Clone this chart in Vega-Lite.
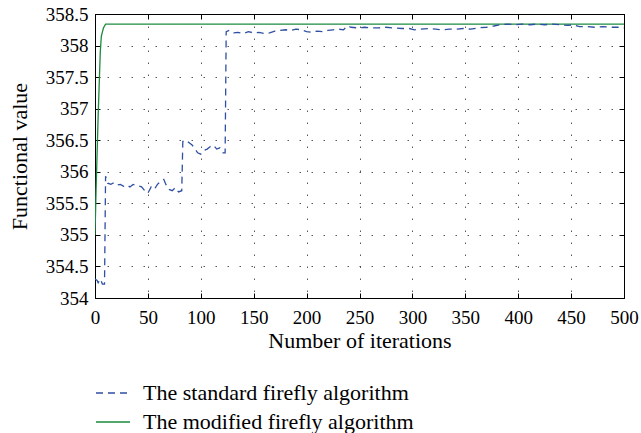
{
  "$schema": "https://vega.github.io/schema/vega-lite/v6.json",
  "width": 529,
  "height": 284,
  "autosize": {"type": "none"},
  "padding": {"left": 95, "top": 14, "right": 17, "bottom": 135},
  "background": "white",
  "config": {
    "font": "Liberation Serif",
    "style": {
      "guide-label": {"font": "Liberation Serif", "fill": "black"},
      "guide-title": {"font": "Liberation Serif", "fill": "black"}
    },
    "view": {"stroke": "black", "strokeWidth": 1},
    "axis": {
      "labelFont": "Liberation Serif",
      "titleFont": "Liberation Serif",
      "labelFontSize": 19,
      "titleFontSize": 22,
      "titleFontWeight": "normal",
      "labelColor": "black",
      "titleColor": "black",
      "domainColor": "black",
      "tickColor": "black",
      "gridColor": "#222222",
      "gridOpacity": 0.75,
      "gridDash": [1.5, 10.5],
      "gridWidth": 1
    },
    "legend": {"labelFont": "Liberation Serif"}
  },
  "data": {
    "values": [
      {"series": "The modified firefly algorithm", "iter": 0, "value": 355.0},
      {"series": "The modified firefly algorithm", "iter": 1, "value": 355.7},
      {"series": "The modified firefly algorithm", "iter": 2, "value": 356.3},
      {"series": "The modified firefly algorithm", "iter": 3, "value": 356.9},
      {"series": "The modified firefly algorithm", "iter": 4, "value": 357.4},
      {"series": "The modified firefly algorithm", "iter": 5, "value": 357.9},
      {"series": "The modified firefly algorithm", "iter": 6, "value": 358.15},
      {"series": "The modified firefly algorithm", "iter": 8, "value": 358.28},
      {"series": "The modified firefly algorithm", "iter": 10, "value": 358.34},
      {"series": "The modified firefly algorithm", "iter": 500, "value": 358.34},

      {"series": "The standard firefly algorithm", "iter": 0, "value": 354.30},
      {"series": "The standard firefly algorithm", "iter": 2, "value": 354.28},
      {"series": "The standard firefly algorithm", "iter": 3, "value": 354.24},
      {"series": "The standard firefly algorithm", "iter": 5, "value": 354.30},
      {"series": "The standard firefly algorithm", "iter": 7, "value": 354.22},
      {"series": "The standard firefly algorithm", "iter": 9, "value": 354.22},
      {"series": "The standard firefly algorithm", "iter": 10, "value": 355.93},
      {"series": "The standard firefly algorithm", "iter": 12, "value": 355.82},
      {"series": "The standard firefly algorithm", "iter": 15, "value": 355.80},
      {"series": "The standard firefly algorithm", "iter": 18, "value": 355.83},
      {"series": "The standard firefly algorithm", "iter": 21, "value": 355.79},
      {"series": "The standard firefly algorithm", "iter": 24, "value": 355.80},
      {"series": "The standard firefly algorithm", "iter": 27, "value": 355.77},
      {"series": "The standard firefly algorithm", "iter": 30, "value": 355.79},
      {"series": "The standard firefly algorithm", "iter": 33, "value": 355.76},
      {"series": "The standard firefly algorithm", "iter": 36, "value": 355.80},
      {"series": "The standard firefly algorithm", "iter": 40, "value": 355.78},
      {"series": "The standard firefly algorithm", "iter": 44, "value": 355.76},
      {"series": "The standard firefly algorithm", "iter": 48, "value": 355.68},
      {"series": "The standard firefly algorithm", "iter": 50, "value": 355.66},
      {"series": "The standard firefly algorithm", "iter": 53, "value": 355.76},
      {"series": "The standard firefly algorithm", "iter": 56, "value": 355.72},
      {"series": "The standard firefly algorithm", "iter": 59, "value": 355.80},
      {"series": "The standard firefly algorithm", "iter": 62, "value": 355.85},
      {"series": "The standard firefly algorithm", "iter": 65, "value": 355.88},
      {"series": "The standard firefly algorithm", "iter": 67, "value": 355.80},
      {"series": "The standard firefly algorithm", "iter": 70, "value": 355.72},
      {"series": "The standard firefly algorithm", "iter": 73, "value": 355.70},
      {"series": "The standard firefly algorithm", "iter": 76, "value": 355.75},
      {"series": "The standard firefly algorithm", "iter": 79, "value": 355.68},
      {"series": "The standard firefly algorithm", "iter": 82, "value": 355.70},
      {"series": "The standard firefly algorithm", "iter": 83, "value": 356.48},
      {"series": "The standard firefly algorithm", "iter": 86, "value": 356.50},
      {"series": "The standard firefly algorithm", "iter": 89, "value": 356.46},
      {"series": "The standard firefly algorithm", "iter": 92, "value": 356.42},
      {"series": "The standard firefly algorithm", "iter": 95, "value": 356.35},
      {"series": "The standard firefly algorithm", "iter": 97, "value": 356.30},
      {"series": "The standard firefly algorithm", "iter": 100, "value": 356.28},
      {"series": "The standard firefly algorithm", "iter": 103, "value": 356.34},
      {"series": "The standard firefly algorithm", "iter": 106, "value": 356.36},
      {"series": "The standard firefly algorithm", "iter": 109, "value": 356.40},
      {"series": "The standard firefly algorithm", "iter": 112, "value": 356.42},
      {"series": "The standard firefly algorithm", "iter": 115, "value": 356.36},
      {"series": "The standard firefly algorithm", "iter": 118, "value": 356.38},
      {"series": "The standard firefly algorithm", "iter": 121, "value": 356.30},
      {"series": "The standard firefly algorithm", "iter": 123, "value": 356.30},
      {"series": "The standard firefly algorithm", "iter": 124, "value": 358.22},
      {"series": "The standard firefly algorithm", "iter": 127, "value": 358.24},
      {"series": "The standard firefly algorithm", "iter": 131, "value": 358.20},
      {"series": "The standard firefly algorithm", "iter": 135, "value": 358.21},
      {"series": "The standard firefly algorithm", "iter": 140, "value": 358.19},
      {"series": "The standard firefly algorithm", "iter": 145, "value": 358.22},
      {"series": "The standard firefly algorithm", "iter": 150, "value": 358.20},
      {"series": "The standard firefly algorithm", "iter": 155, "value": 358.21},
      {"series": "The standard firefly algorithm", "iter": 160, "value": 358.19},
      {"series": "The standard firefly algorithm", "iter": 165, "value": 358.20},
      {"series": "The standard firefly algorithm", "iter": 170, "value": 358.23},
      {"series": "The standard firefly algorithm", "iter": 175, "value": 358.24},
      {"series": "The standard firefly algorithm", "iter": 180, "value": 358.25},
      {"series": "The standard firefly algorithm", "iter": 185, "value": 358.24},
      {"series": "The standard firefly algorithm", "iter": 190, "value": 358.26},
      {"series": "The standard firefly algorithm", "iter": 195, "value": 358.25},
      {"series": "The standard firefly algorithm", "iter": 200, "value": 358.22},
      {"series": "The standard firefly algorithm", "iter": 205, "value": 358.21},
      {"series": "The standard firefly algorithm", "iter": 210, "value": 358.23},
      {"series": "The standard firefly algorithm", "iter": 215, "value": 358.22},
      {"series": "The standard firefly algorithm", "iter": 220, "value": 358.24},
      {"series": "The standard firefly algorithm", "iter": 225, "value": 358.25},
      {"series": "The standard firefly algorithm", "iter": 230, "value": 358.26},
      {"series": "The standard firefly algorithm", "iter": 235, "value": 358.25},
      {"series": "The standard firefly algorithm", "iter": 238, "value": 358.31},
      {"series": "The standard firefly algorithm", "iter": 242, "value": 358.29},
      {"series": "The standard firefly algorithm", "iter": 248, "value": 358.28},
      {"series": "The standard firefly algorithm", "iter": 255, "value": 358.29},
      {"series": "The standard firefly algorithm", "iter": 262, "value": 358.28},
      {"series": "The standard firefly algorithm", "iter": 268, "value": 358.28},
      {"series": "The standard firefly algorithm", "iter": 275, "value": 358.29},
      {"series": "The standard firefly algorithm", "iter": 282, "value": 358.28},
      {"series": "The standard firefly algorithm", "iter": 290, "value": 358.27},
      {"series": "The standard firefly algorithm", "iter": 297, "value": 358.27},
      {"series": "The standard firefly algorithm", "iter": 302, "value": 358.25},
      {"series": "The standard firefly algorithm", "iter": 308, "value": 358.26},
      {"series": "The standard firefly algorithm", "iter": 315, "value": 358.27},
      {"series": "The standard firefly algorithm", "iter": 322, "value": 358.26},
      {"series": "The standard firefly algorithm", "iter": 328, "value": 358.25},
      {"series": "The standard firefly algorithm", "iter": 335, "value": 358.26},
      {"series": "The standard firefly algorithm", "iter": 341, "value": 358.26},
      {"series": "The standard firefly algorithm", "iter": 348, "value": 358.27},
      {"series": "The standard firefly algorithm", "iter": 355, "value": 358.26},
      {"series": "The standard firefly algorithm", "iter": 362, "value": 358.28},
      {"series": "The standard firefly algorithm", "iter": 370, "value": 358.29},
      {"series": "The standard firefly algorithm", "iter": 377, "value": 358.31},
      {"series": "The standard firefly algorithm", "iter": 383, "value": 358.33},
      {"series": "The standard firefly algorithm", "iter": 390, "value": 358.34},
      {"series": "The standard firefly algorithm", "iter": 397, "value": 358.33},
      {"series": "The standard firefly algorithm", "iter": 404, "value": 358.34},
      {"series": "The standard firefly algorithm", "iter": 411, "value": 358.33},
      {"series": "The standard firefly algorithm", "iter": 418, "value": 358.34},
      {"series": "The standard firefly algorithm", "iter": 425, "value": 358.33},
      {"series": "The standard firefly algorithm", "iter": 432, "value": 358.34},
      {"series": "The standard firefly algorithm", "iter": 440, "value": 358.33},
      {"series": "The standard firefly algorithm", "iter": 447, "value": 358.32},
      {"series": "The standard firefly algorithm", "iter": 452, "value": 358.33},
      {"series": "The standard firefly algorithm", "iter": 458, "value": 358.30},
      {"series": "The standard firefly algorithm", "iter": 465, "value": 358.30},
      {"series": "The standard firefly algorithm", "iter": 472, "value": 358.29},
      {"series": "The standard firefly algorithm", "iter": 480, "value": 358.30},
      {"series": "The standard firefly algorithm", "iter": 487, "value": 358.29},
      {"series": "The standard firefly algorithm", "iter": 494, "value": 358.29},
      {"series": "The standard firefly algorithm", "iter": 500, "value": 358.28}
    ]
  },
  "layer": [
    {
      "mark": {"type": "line", "strokeWidth": 1.3, "clip": true},
      "encoding": {
        "x": {
          "field": "iter", "type": "quantitative",
          "scale": {"domain": [0, 500], "nice": false, "zero": false},
          "axis": {
            "title": "Number of iterations",
            "values": [0, 50, 100, 150, 200, 250, 300, 350, 400, 450, 500],
            "format": "d",
            "grid": true,
            "tickSize": -5,
            "labelFont": "Liberation Serif",
            "labelFontSize": 19,
            "titleFont": "Liberation Serif",
            "titleFontSize": 22,
            "labelPadding": 15,
            "titlePadding": 3,
            "labelFlush": false,
            "domain": true
          }
        },
        "y": {
          "field": "value", "type": "quantitative",
          "scale": {"domain": [354, 358.5], "nice": false, "zero": false},
          "axis": {
            "title": "Functional value",
            "values": [354, 354.5, 355, 355.5, 356, 356.5, 357, 357.5, 358, 358.5],
            "format": "~f",
            "grid": true,
            "tickSize": -5,
            "labelFont": "Liberation Serif",
            "labelFontSize": 19,
            "titleFont": "Liberation Serif",
            "titleFontSize": 22,
            "labelPadding": 12,
            "titlePadding": 14,
            "labelFlush": false
          }
        },
        "color": {
          "field": "series", "type": "nominal",
          "scale": {
            "domain": ["The standard firefly algorithm", "The modified firefly algorithm"],
            "range": ["#2f4fa3", "#1a8a3e"]
          },
          "legend": {
            "title": null,
            "orient": "none",
            "legendX": 0,
            "legendY": 361,
            "direction": "vertical",
            "symbolType": "stroke",
            "symbolSize": 1156,
            "symbolStrokeWidth": 1.3,
            "labelFont": "Liberation Serif",
            "labelFontSize": 22,
            "labelColor": "black",
            "labelLimit": 500,
            "labelOffset": 12,
            "rowPadding": -10,
            "padding": 0
          }
        },
        "strokeDash": {
          "field": "series", "type": "nominal",
          "scale": {
            "domain": ["The standard firefly algorithm", "The modified firefly algorithm"],
            "range": [[7, 5], [1, 0]]
          },
          "legend": null
        }
      }
    },
    {
      "mark": {"type": "line", "opacity": 0},
      "encoding": {
        "x": {
          "field": "iter", "type": "quantitative",
          "axis": {
            "orient": "top", "title": null, "labels": false, "grid": false,
            "values": [0, 50, 100, 150, 200, 250, 300, 350, 400, 450, 500],
            "tickSize": -5
          }
        },
        "y": {
          "field": "value", "type": "quantitative",
          "axis": {
            "orient": "right", "title": null, "labels": false, "grid": false,
            "values": [354, 354.5, 355, 355.5, 356, 356.5, 357, 357.5, 358, 358.5],
            "tickSize": -5
          }
        },
        "detail": {"field": "series", "type": "nominal"}
      }
    }
  ],
  "resolve": {"axis": {"x": "independent", "y": "independent"}}
}
